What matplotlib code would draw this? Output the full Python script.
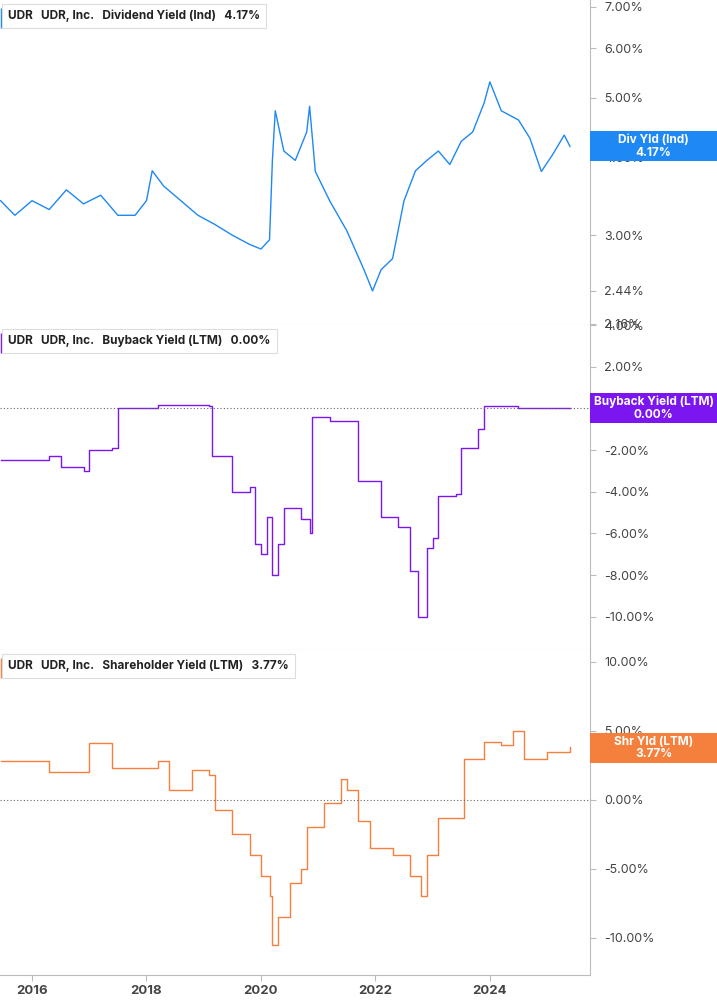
import matplotlib
matplotlib.use("Agg")
import matplotlib.pyplot as plt
import matplotlib.ticker as mt
from matplotlib.patches import Rectangle

plt.rcParams["font.family"] = "Inter"

div_x = [2015.45,2015.7,2016.0,2016.3,2016.6,2016.9,2017.2,2017.5,2017.8,2018.0,2018.1,2018.3,2018.6,2018.9,
         2019.2,2019.5,2019.8,2020.0,2020.15,2020.2,2020.25,2020.4,2020.6,2020.8,2020.85,2020.95,2021.2,2021.5,
         2021.8,2021.95,2022.1,2022.3,2022.5,2022.7,2022.9,2023.1,2023.3,2023.5,2023.7,2023.9,2024.0,2024.2,
         2024.5,2024.7,2024.9,2025.1,2025.3,2025.4]
div_y = [3.41,3.23,3.41,3.30,3.55,3.37,3.48,3.23,3.23,3.41,3.81,3.60,3.41,3.23,3.12,3.00,2.90,2.85,2.95,3.96,4.76,
         4.10,3.96,4.40,4.84,3.80,3.41,3.05,2.64,2.44,2.64,2.75,3.41,3.81,3.96,4.10,3.90,4.25,4.40,4.90,5.30,
         4.76,4.60,4.30,3.80,4.05,4.35,4.17]

buy_x = [2015.45,2016.3,2016.5,2016.9,2017.0,2017.4,2017.5,2018.2,2019.1,2019.15,2019.5,2019.8,2019.9,2020.0,
         2020.1,2020.2,2020.3,2020.4,2020.7,2020.85,2020.9,2021.2,2021.7,2022.1,2022.4,2022.6,2022.75,2022.9,
         2023.0,2023.1,2023.4,2023.5,2023.8,2023.9,2024.5,2025.4]
buy_y = [-2.5,-2.3,-2.8,-3.0,-2.0,-1.9,0.0,0.15,0.1,-2.3,-4.0,-3.8,-6.5,-7.0,-5.2,-8.0,-6.5,-4.8,-5.3,-6.0,
         -0.4,-0.6,-3.5,-5.2,-5.7,-7.8,-10.0,-6.7,-6.2,-4.2,-4.1,-1.9,-1.0,0.1,0.0,0.0]

shr_x = [2015.45,2016.3,2016.9,2017.0,2017.4,2018.2,2018.4,2018.8,2019.1,2019.2,2019.5,2019.8,2020.0,2020.15,
         2020.2,2020.3,2020.5,2020.7,2020.8,2021.1,2021.4,2021.5,2021.7,2021.9,2022.3,2022.6,2022.8,2022.9,
         2023.1,2023.5,2023.55,2023.9,2024.2,2024.4,2024.6,2025.0,2025.4]
shr_y = [2.8,2.0,2.0,4.1,2.3,2.8,0.7,2.2,1.8,-0.7,-2.5,-4.0,-5.5,-7.0,-10.5,-8.5,-6.0,-5.0,-2.0,-0.2,1.5,0.7,
         -1.5,-3.5,-4.0,-5.5,-7.0,-4.0,-1.3,-1.3,3.0,4.2,4.0,5.0,3.0,3.5,3.8]

W, H = 717, 1005
fig = plt.figure(figsize=(W/100, H/100), dpi=100)
R = 590/W
def box(top, bot):
    return [0, 1-bot/H, R, (bot-top)/H]

grey = "#bbbbbb"
tick_c = "#444444"
panels = [
    (box(0, 325), div_x, div_y, "#1e88f5", "Dividend Yield (Ind)", "4.17%", "Div Yld (Ind)", "4.17%", 4.17),
    (box(325, 650), buy_x, buy_y, "#7b16f0", "Buyback Yield (LTM)", "0.00%", "Buyback Yield (LTM)", "0.00%", 0.0),
    (box(650, 975), shr_x, shr_y, "#f5803e", "Shareholder Yield (LTM)", "3.77%", "Shr Yld (LTM)", "3.77%", 3.77),
]
for i, (rect, xs, ys, col, name, val, badge, bval, last) in enumerate(panels):
    ax = fig.add_axes(rect)
    if i == 0:
        ax.set_yscale("log")
        ax.plot(xs, ys, color=col, lw=1.0)
        ax.set_ylim(2.15, 7.18)
        ticks = [2.16, 2.44, 3.0, 4.0, 5.0, 6.0, 7.0]
        ax.yaxis.set_major_locator(mt.FixedLocator(ticks))
        ax.yaxis.set_minor_locator(mt.NullLocator())
    elif i == 1:
        ax.plot(xs, ys, color=col, lw=1.0, drawstyle="steps-post")
        ax.set_ylim(-11.6, 4.0)
        ax.yaxis.set_major_locator(mt.FixedLocator([4, 2, 0, -2, -4, -6, -8, -10]))
        ax.axhline(0, color="#666666", ls=(0, (1, 2)), lw=0.8)
    else:
        ax.plot(xs, ys, color=col, lw=1.0, drawstyle="steps-post")
        ax.set_ylim(-12.7, 10.87)
        ax.yaxis.set_major_locator(mt.FixedLocator([10, 5, 0, -5, -10]))
        ax.axhline(0, color="#666666", ls=(0, (1, 2)), lw=0.8)
    ax.yaxis.set_major_formatter(mt.FuncFormatter(lambda v, p: f"{v:.2f}%"))
    ax.yaxis.tick_right()
    ax.tick_params(axis="y", labelsize=9, colors=tick_c, length=4, color=grey, pad=6)
    ax.set_xlim(2015.44, 2025.75)
    for s in ["left", "top"]:
        ax.spines[s].set_visible(False)
    ax.spines["right"].set_color(grey)
    ax.spines["bottom"].set_color(grey)
    if i < 2:
        ax.tick_params(axis="x", bottom=False, labelbottom=False)
    else:
        ax.set_xticks([2016, 2018, 2020, 2022, 2024])
        ax.set_xticklabels(["2016", "2018", "2020", "2022", "2024"])
        ax.tick_params(axis="x", labelsize=9.5, colors=tick_c, color=grey, length=4)
        for t in ax.get_xticklabels():
            t.set_fontweight("bold")
    ax.text(0.014, 0.97, f"UDR   UDR, Inc.   {name}   {val}", transform=ax.transAxes, ha="left", va="top",
            fontsize=8.5, fontweight="bold", color="#222222",
            bbox=dict(boxstyle="square,pad=0.5", fc="white", ec="#dddddd", lw=0.8))
    ax.plot([0.004, 0.004], [0.915, 0.975], transform=ax.transAxes, color=col, lw=2.5, solid_capstyle="butt")
    # right badge spanning to figure edge
    fig.canvas.draw()
    ypix = ax.transData.transform((2020, last))[1]
    bh = 30
    fig.patches.append(Rectangle((590/W, (ypix - bh/2)/H), (W-590)/W, bh/H, transform=fig.transFigure,
                                 fc=col, ec="none", zorder=5))
    fig.text((590 + (W-590)/2)/W, ypix/H, f"{badge}\n{bval}", ha="center", va="center",
             fontsize=8.5, fontweight="bold", color="white", linespacing=1.05, zorder=6)

fig.savefig("out.png", dpi=100)
